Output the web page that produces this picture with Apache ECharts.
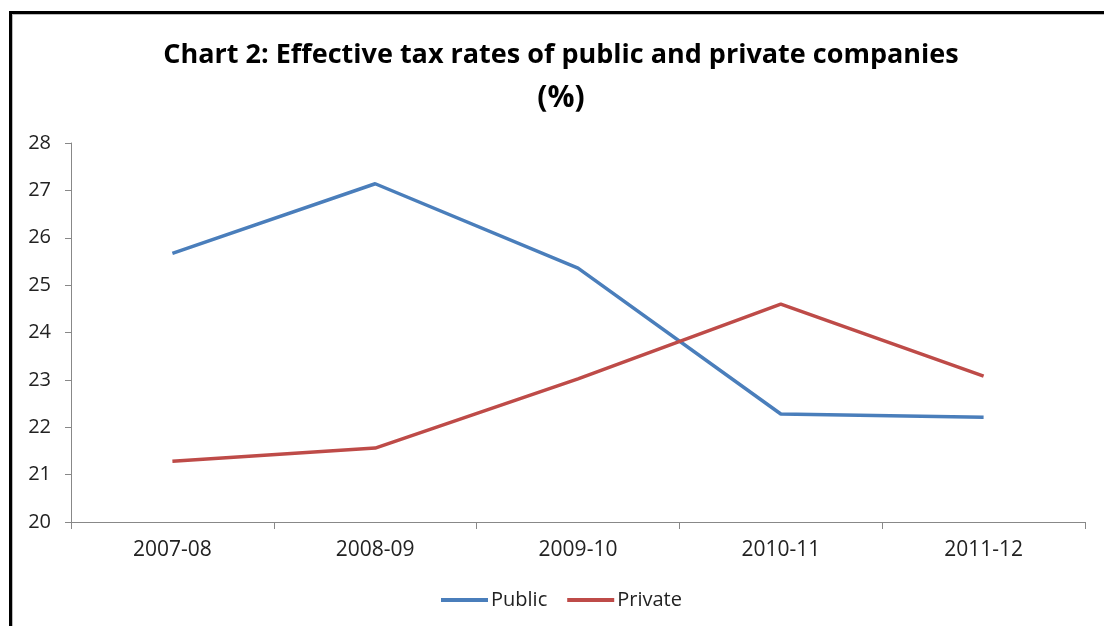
<!DOCTYPE html>
<html><head><meta charset="utf-8">
<script src="https://cdn.jsdelivr.net/npm/echarts@6/dist/echarts.min.js"></script>
<style>html,body{margin:0;padding:0;background:#fff}#c{width:1104px;height:626px}</style>
</head><body><div id="c"></div>
<script>
const categories = ['2007-08','2008-09','2009-10','2010-11','2011-12'];
const publicValues = [25.67, 27.14, 25.36, 22.28, 22.21];
const privateValues = [21.28, 21.56, 23.02, 24.60, 23.08];
const yTicks = [20,21,22,23,24,25,26,27,28];

const chart = echarts.init(document.getElementById('c'));
const font = '"Open Sans", "Liberation Sans", sans-serif';
chart.setOption({
  animation: false,
  backgroundColor: '#fff',
  graphic: [
    {type:'rect', shape:{x:9,y:11,width:1200,height:3}, style:{fill:'#000'}},
    {type:'rect', shape:{x:9,y:11,width:3,height:700}, style:{fill:'#000'}},
    {type:'rect', shape:{x:12,y:14,width:1200,height:1}, style:{fill:'#bbb'}},
    {type:'rect', shape:{x:12,y:14,width:1,height:700}, style:{fill:'#bbb'}}
  ],
  title: {
    text: '{a|Chart 2: Effective tax rates of public and private companies}\n{b|(%)}',
    left: 556, textAlign: 'center', top: 29,
    textStyle: {
      rich: {
        a: {fontFamily: font, fontWeight: 'bold', fontSize: 27, color: '#000', lineHeight: 42},
        b: {fontFamily: font, fontWeight: 'bold', fontSize: 30, color: '#000', lineHeight: 44}
      }
    }
  },
  legend: {
    bottom: 11, left: 436, itemWidth: 47, itemHeight: 4, itemGap: 20,
    icon: 'rect',
    textStyle: {fontFamily: font, fontSize: 20, color: '#222', padding: [0,0,0,-2]},
    data: ['Public','Private']
  },
  grid: {left: 71, right: 19, top: 143, bottom: 104, containLabel: false},
  xAxis: {
    type: 'category', data: categories, boundaryGap: true,
    axisLine: {lineStyle: {color: '#888', width: 1}},
    axisTick: {show: true, length: 7, lineStyle: {color: '#888'}},
    axisLabel: {fontFamily: font, fontSize: 21, color: '#222', margin: 18}
  },
  yAxis: {
    type: 'value', min: 20, max: 28, interval: 1,
    axisLine: {show: true, lineStyle: {color: '#888'}},
    axisTick: {show: true, length: 6, lineStyle: {color: '#888'}},
    splitLine: {show: false},
    axisLabel: {fontFamily: font, fontSize: 20, color: '#222', margin: 20,
      formatter: v => yTicks.includes(v) ? String(v) : ''}
  },
  series: [
    {name: 'Public', type: 'line', data: publicValues, symbol: 'none',
     lineStyle: {color: '#4a7ebb', width: 3.5}, itemStyle: {color: '#4a7ebb'}},
    {name: 'Private', type: 'line', data: privateValues, symbol: 'none',
     lineStyle: {color: '#be4b48', width: 3.5}, itemStyle: {color: '#be4b48'}}
  ]
});
</script></body></html>
